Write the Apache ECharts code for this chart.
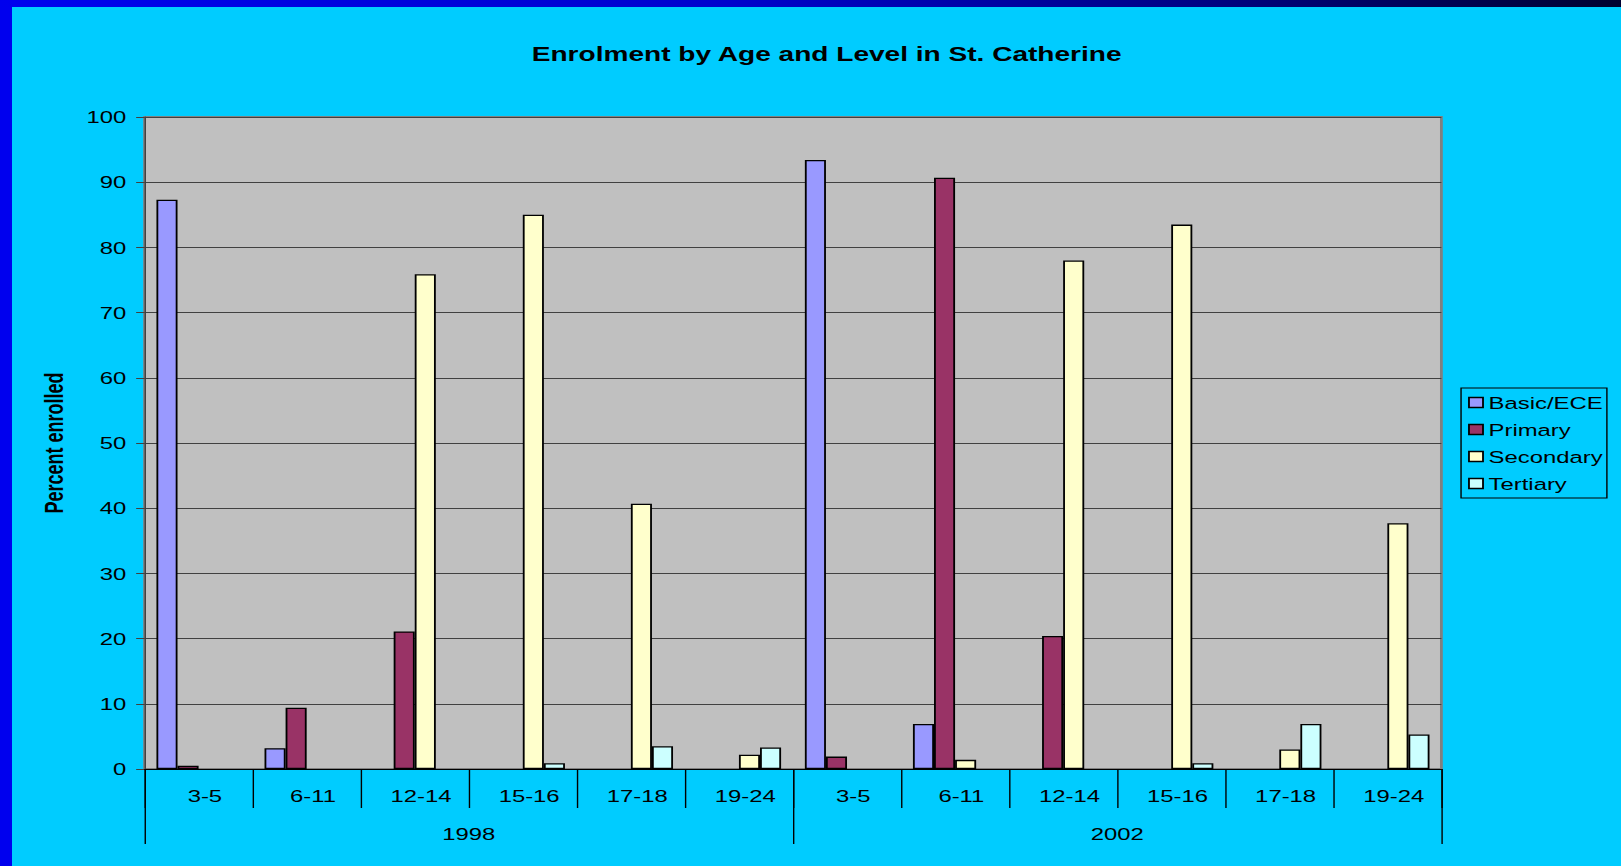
<!DOCTYPE html>
<html>
<head>
<meta charset="utf-8">
<script src="https://cdn.jsdelivr.net/npm/echarts@6/dist/echarts.min.js"></script>
<style>
  html, body {
    margin: 0;
    padding: 0;
    overflow: hidden;
  }
  /* slide background */
  .slide {
    position: relative;
    width: 1621px;
    height: 866px;
    background: #00ccff;
    overflow: hidden;
  }
  .slide .left-bar {
    position: absolute;
    left: 0;
    top: 0;
    width: 12px;
    height: 866px;
    background: #0000ee;
  }
  .slide .top-bar {
    position: absolute;
    left: 0;
    top: 0;
    width: 1621px;
    height: 7px;
    background: linear-gradient(to right, #0000ee 0%, #0000cc 45%, #000080 75%, #000030 100%);
  }
  /* the original is a 4:3 slide stretched to wide, so draw at 4:3 and stretch */
  #chart {
    position: absolute;
    left: 0;
    top: 0;
    width: 1155px;
    height: 866px;
    transform: scaleX(1.4035);
    transform-origin: 0 0;
  }
</style>
</head>
<body>
<div class="slide">
  <div class="left-bar"></div>
  <div class="top-bar"></div>
  <div id="chart"></div>
</div>

<script>
const ageGroups = ['3-5', '6-11', '12-14', '15-16', '17-18', '19-24',
  '3-5', '6-11', '12-14', '15-16', '17-18', '19-24']
const years = ['1998', '2002']
const yTicks = { min: 0, max: 100, interval: 10 }

const basicEce = [87.3, 3.2, null, null, null, null, 93.4, 6.9, null, null, null, null]
const primary = [0.5, 9.4, 21.1, null, null, null, 1.9, 90.7, 20.4, null, null, null]
const secondary = [null, null, 75.9, 85.0, 40.7, 2.2, null, 1.4, 78.0, 83.5, 3.0, 37.7]
const tertiary = [null, null, null, 0.9, 3.5, 3.3, null, null, null, 0.9, 6.9, 5.3]

const font = 'Liberation Sans, Arial, sans-serif'

function bar(name, data, color) {
  return {
    name: name,
    type: 'bar',
    data: data,
    barGap: 0,
    barCategoryGap: '22%',
    itemStyle: {
      color: color,
      borderColor: '#000',
      borderWidth: 1.3,
    },
  }
}

const myChart = echarts.init(document.getElementById('chart'), null, { renderer: 'svg' })

const gridBox = { left: 103, right: 128, top: 117, bottom: 97 }

myChart.setOption({
  backgroundColor: 'transparent',
  animation: false,
  title: {
    text: 'Enrolment by Age and Level in St. Catherine',
    left: 584,
    top: 39,
    textAlign: 'center',
    textStyle: {
      fontFamily: font,
      fontSize: 20,
      fontWeight: 'bold',
      color: '#000',
    },
  },
  legend: {
    orient: 'vertical',
    left: 1041,
    top: 388,
    padding: [6, 3, 6, 5],
    itemGap: 10,
    itemWidth: 10,
    itemHeight: 10,
    icon: 'rect',
    borderColor: '#000',
    borderWidth: 1,
    borderRadius: 0,
    itemStyle: { borderColor: '#000', borderWidth: 1.3 },
    textStyle: { fontFamily: font, fontSize: 17, color: '#000', padding: [0, 0, 0, -1] },
    data: ['Basic/ECE', 'Primary', 'Secondary', 'Tertiary'],
  },
  grid: [
    Object.assign({ show: true, backgroundColor: '#c0c0c0', borderColor: '#808080', borderWidth: 2 }, gridBox),
    Object.assign({ show: false }, gridBox),
  ],
  xAxis: [
    {
      type: 'category',
      gridIndex: 0,
      data: ageGroups,
      axisLine: { show: true, lineStyle: { color: '#000', width: 1 } },
      axisTick: { show: true, interval: 0, length: 39, lineStyle: { color: '#000', width: 1 } },
      axisLabel: { interval: 0, margin: 18, padding: [0, 0, 0, 9], fontFamily: font, fontSize: 17, color: '#000' },
    },
    {
      type: 'category',
      gridIndex: 1,
      data: years,
      axisLine: { show: false },
      axisTick: { show: true, interval: 0, length: 75, lineStyle: { color: '#000', width: 1 } },
      axisLabel: { margin: 56, fontFamily: font, fontSize: 17, color: '#000' },
    },
  ],
  yAxis: [
    {
      type: 'value',
      gridIndex: 0,
      min: yTicks.min,
      max: yTicks.max,
      interval: yTicks.interval,
      name: 'Percent enrolled',
      nameLocation: 'middle',
      nameGap: 55,
      nameTextStyle: { fontFamily: font, fontSize: 18, fontWeight: 'bold', color: '#000' },
      axisLine: { show: true, lineStyle: { color: '#404040', width: 1 } },
      axisTick: { show: true, length: 6, lineStyle: { color: '#404040' } },
      axisLabel: { margin: 13, fontFamily: font, fontSize: 17, color: '#000' },
      splitLine: { lineStyle: { color: '#404040', width: 1 } },
    },
    {
      type: 'value',
      gridIndex: 1,
      show: false,
    },
  ],
  series: [
    bar('Basic/ECE', basicEce, '#9999ff'),
    bar('Primary', primary, '#993366'),
    bar('Secondary', secondary, '#ffffcc'),
    bar('Tertiary', tertiary, '#ccffff'),
  ],
})
</script>
</body>
</html>
